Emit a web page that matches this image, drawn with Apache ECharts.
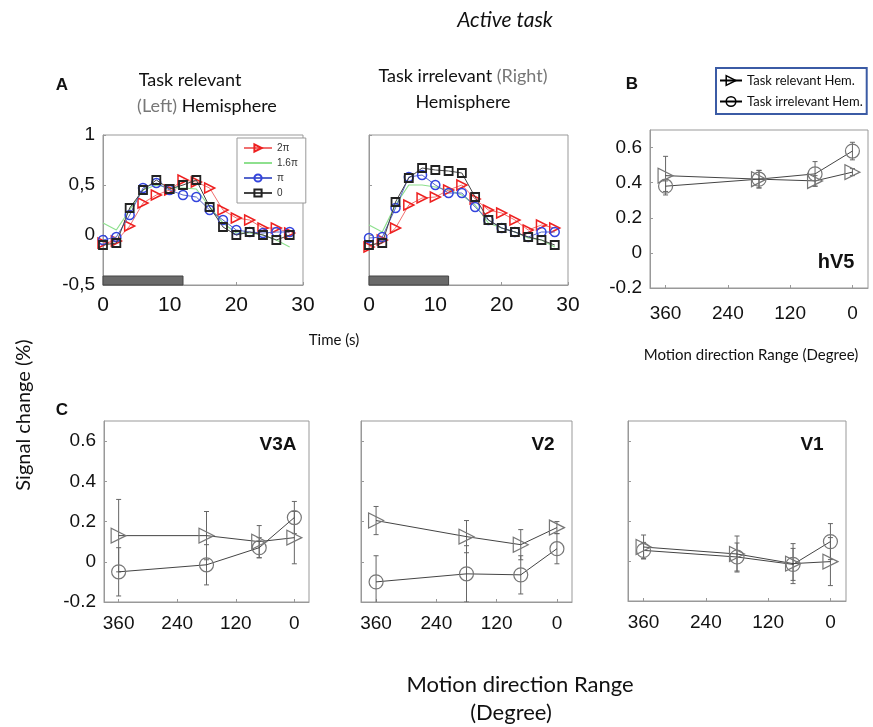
<!DOCTYPE html>
<html>
<head>
<meta charset="utf-8">
<script src="https://cdn.jsdelivr.net/npm/echarts@6/dist/echarts.min.js"></script>
<style>
  body { margin: 0; background: #fff; }
  #chart { width: 873px; height: 727px; }
</style>
</head>
<body>
<div id="chart"></div>
<script>
// ---- panel A : time courses (s) ----
var timeS = [0, 2, 4, 6, 8, 10, 12, 14, 16, 18, 20, 22, 24, 26, 28];
var stimWindow = [0, 12];
var seriesNamesA = ['2π', '1.6π', 'π', '0'];

var leftRed   = [-0.08, -0.06, 0.09, 0.32, 0.40, 0.45, 0.55, 0.53, 0.47, 0.25, 0.17, 0.15, 0.07, 0.07, 0.02];
var leftGreen = [0.12, 0.05, 0.25, 0.45, 0.50, 0.47, 0.47, 0.46, 0.28, 0.12, 0.02, 0.02, 0.00, -0.05, -0.12];
var leftBlue  = [-0.05, -0.02, 0.20, 0.47, 0.52, 0.45, 0.40, 0.38, 0.25, 0.15, 0.05, 0.03, 0.02, 0.03, 0.03];
var leftBlack = [-0.10, -0.08, 0.27, 0.45, 0.55, 0.46, 0.50, 0.55, 0.28, 0.08, 0.00, 0.03, 0.00, -0.05, 0.00];

var rightRed   = [-0.12, -0.05, 0.07, 0.30, 0.37, 0.38, 0.45, 0.50, 0.36, 0.25, 0.22, 0.15, 0.05, 0.10, 0.07];
var rightGreen = [0.10, 0.03, 0.30, 0.50, 0.50, 0.48, 0.45, 0.40, 0.30, 0.12, 0.07, 0.03, -0.03, -0.05, -0.12];
var rightBlue  = [-0.03, -0.02, 0.27, 0.58, 0.60, 0.50, 0.42, 0.42, 0.28, 0.15, 0.07, 0.03, -0.02, 0.03, 0.03];
var rightBlack = [-0.10, -0.08, 0.33, 0.57, 0.67, 0.65, 0.64, 0.62, 0.38, 0.15, 0.07, 0.03, -0.02, -0.05, -0.10];

// ---- panels B, C : motion direction range (deg) ----
var dirX = [360, 180, 72, 0];
var dirTicks = [0, 120, 240, 360];
var relName = 'Task relevant Hem.';
var irrName = 'Task irrelevant Hem.';

var hv5Rel = [0.44, 0.42, 0.41, 0.46],   hv5RelErr = [0.11, 0.05, 0.03, 0.02];
var hv5Irr = [0.38, 0.42, 0.45, 0.58],   hv5IrrErr = [0.03, 0.05, 0.07, 0.05];
var v3aRel = [0.13, 0.13, 0.10, 0.12],   v3aRelErr = [0.18, 0.12, 0.08, 0.13];
var v3aIrr = [-0.05, -0.015, 0.07, 0.22], v3aIrrErr = [0.12, 0.10, 0.05, 0.08];
var v2Rel  = [0.205, 0.125, 0.085, 0.17], v2RelErr = [0.07, 0.08, 0.075, 0.03];
var v2Irr  = [-0.10, -0.06, -0.065, 0.065], v2IrrErr = [0.13, 0.14, 0.095, 0.075];
var v1Rel  = [0.07, 0.035, -0.013, -0.003], v1RelErr = [0.06, 0.09, 0.10, 0.12];
var v1Irr  = [0.053, 0.02, -0.017, 0.097], v1IrrErr = [0.04, 0.07, 0.08, 0.09];

var tickFont = 'Liberation Sans, Arial, sans-serif';
var textFont = 'Lato, Open Sans, sans-serif';
var hollow = 'rgba(255,255,255,0)';

function pairs(xs, ys) {
	return xs.map(function (x, i) { return [x, ys[i]]; });
}

// 误差棒
function errRender(params, api) {
	var x = api.value(0);
	var p1 = api.coord([x, api.value(1)]);
	var p2 = api.coord([x, api.value(2)]);
	var cap = 2.5;
	var st = { stroke: '#666', lineWidth: 1 };
	return {
		type: 'group',
		children: [
			{ type: 'line', shape: { x1: p1[0], y1: p1[1], x2: p2[0], y2: p2[1] }, style: st },
			{ type: 'line', shape: { x1: p1[0] - cap, y1: p1[1], x2: p1[0] + cap, y2: p1[1] }, style: st },
			{ type: 'line', shape: { x1: p2[0] - cap, y1: p2[1], x2: p2[0] + cap, y2: p2[1] }, style: st }
		]
	};
}

function errSeries(idx, vals, errs) {
	return {
		type: 'custom',
		name: 'err',
		xAxisIndex: idx, yAxisIndex: idx,
		clip: true,
		renderItem: errRender,
		data: dirX.map(function (d, i) { return [d, vals[i] - errs[i], vals[i] + errs[i]]; }),
		z: 1
	};
}

function dirSeries(idx, rel, relErr, irr, irrErr) {
	return [
		errSeries(idx, rel, relErr),
		errSeries(idx, irr, irrErr),
		{
			type: 'line', name: relName, xAxisIndex: idx, yAxisIndex: idx,
			data: pairs(dirX, rel),
			symbol: 'triangle', symbolRotate: -90, symbolSize: 15,
			lineStyle: { color: '#444', width: 1 },
			itemStyle: { color: hollow, borderColor: '#777', borderWidth: 1.2 },
			z: 3
		},
		{
			type: 'line', name: irrName, xAxisIndex: idx, yAxisIndex: idx,
			data: pairs(dirX, irr),
			symbol: 'circle', symbolSize: 14,
			lineStyle: { color: '#444', width: 1 },
			itemStyle: { color: hollow, borderColor: '#777', borderWidth: 1.2 },
			z: 3
		}
	];
}

function timeSeries(idx, red, green, blue, black) {
	return [
		{
			type: 'line', name: '1.6π', xAxisIndex: idx, yAxisIndex: idx,
			data: pairs(timeS, green), symbol: 'none',
			lineStyle: { color: '#8ee08e', width: 1.2 }, z: 2
		},
		{
			type: 'line', name: '2π', xAxisIndex: idx, yAxisIndex: idx,
			data: pairs(timeS, red), symbol: 'triangle', symbolRotate: -90, symbolSize: 10,
			lineStyle: { color: '#f07070', width: 1 },
			itemStyle: { color: hollow, borderColor: '#ee2020', borderWidth: 1.5 }, z: 3,
			markArea: {
				silent: true,
				itemStyle: { color: '#6a6a6a', borderColor: '#444', borderWidth: 1 },
				data: [[{ coord: [stimWindow[0], -0.5] }, { coord: [stimWindow[1], -0.41] }]]
			}
		},
		{
			type: 'line', name: 'π', xAxisIndex: idx, yAxisIndex: idx,
			data: pairs(timeS, blue), symbol: 'circle', symbolSize: 9,
			lineStyle: { color: '#5566cc', width: 1 },
			itemStyle: { color: hollow, borderColor: '#3344dd', borderWidth: 1.5 }, z: 4
		},
		{
			type: 'line', name: '0', xAxisIndex: idx, yAxisIndex: idx,
			data: pairs(timeS, black), symbol: 'rect', symbolSize: 8,
			lineStyle: { color: '#444', width: 1 },
			itemStyle: { color: hollow, borderColor: '#222', borderWidth: 1.8 }, z: 5
		}
	];
}

var grids = [
	{ left: 103, top: 135, width: 200, height: 150 },
	{ left: 369, top: 135, width: 199, height: 150 },
	{ left: 650, top: 130, width: 218, height: 158 },
	{ left: 104, top: 421, width: 205, height: 181 },
	{ left: 361, top: 421, width: 211, height: 181 },
	{ left: 628, top: 421, width: 218, height: 180 }
].map(function (g) {
	g.show = true; g.borderColor = '#999'; g.borderWidth = 1; g.backgroundColor = '#fff';
	return g;
});

var axLine = { show: true, onZero: false, lineStyle: { color: '#999' } };
var axTick = { show: true, inside: true, length: 3, lineStyle: { color: '#999' } };

function timeX(idx) {
	return {
		type: 'value', gridIndex: idx, min: 0, max: 30, interval: 10,
		axisLine: axLine, axisTick: axTick, splitLine: { show: false },
		axisLabel: { fontFamily: tickFont, fontSize: 21, color: '#111', margin: 10 }
	};
}
function timeY(idx, showLabels) {
	return {
		type: 'value', gridIndex: idx, min: -0.5, max: 1, interval: 0.5,
		axisLine: axLine, axisTick: axTick, splitLine: { show: false },
		axisLabel: {
			show: showLabels, fontFamily: tickFont, fontSize: 19, color: '#111', margin: 8,
			formatter: function (v) { return String(v).replace('.', ','); }
		}
	};
}
function dirXAxis(idx, margin) {
	return {
		type: 'value', gridIndex: idx, min: -30, max: 390, inverse: true,
		axisLine: axLine, splitLine: { show: false },
		axisTick: { show: true, inside: true, length: 3, lineStyle: { color: '#999' }, customValues: dirTicks },
		axisLabel: { fontFamily: tickFont, fontSize: 19, color: '#111', margin: margin, customValues: dirTicks }
	};
}
function dirYAxis(idx, showLabels) {
	return {
		type: 'value', gridIndex: idx, min: -0.2, max: 0.7,
		axisLine: axLine, splitLine: { show: false },
		axisTick: { show: true, inside: true, length: 3, lineStyle: { color: '#999' }, customValues: [-0.2, 0, 0.2, 0.4, 0.6] },
		axisLabel: { show: showLabels, fontFamily: tickFont, fontSize: 19, color: '#111', margin: 8, customValues: [-0.2, 0, 0.2, 0.4, 0.6] }
	};
}

function txt(x, y, text, size, opts) {
	opts = opts || {};
	return {
		type: 'text', x: x, y: y, rotation: opts.rotation || 0,
		style: {
			text: text, fill: opts.fill || '#111',
			font: (opts.style || '') + ' ' + (opts.weight || 'normal') + ' ' + size + 'px ' + (opts.family || textFont),
			textAlign: opts.align || 'center', textVerticalAlign: 'middle',
			rich: opts.rich
		}
	};
}

var graphics = [
	txt(505, 20, 'Active task', 21, { style: 'italic' }),
	txt(62, 85, 'A', 17, { weight: 'bold', family: tickFont }),
	txt(632, 84, 'B', 17, { weight: 'bold', family: tickFont }),
	txt(62, 410, 'C', 17, { weight: 'bold', family: tickFont }),
	txt(190, 80, 'Task relevant', 18),
	txt(207, 106, '{g|(Left)} Hemisphere', 18, { rich: { g: { fill: '#777', font: '18px ' + textFont } } }),
	txt(463, 76, 'Task irrelevant {g|(Right)}', 18, { rich: { g: { fill: '#777', font: '18px ' + textFont } } }),
	txt(463, 102, 'Hemisphere', 18),
	txt(836, 262, 'hV5', 20, { weight: 'bold', family: tickFont }),
	txt(278, 445, 'V3A', 19, { weight: 'bold', family: tickFont }),
	txt(543, 445, 'V2', 19, { weight: 'bold', family: tickFont }),
	txt(812, 445, 'V1', 19, { weight: 'bold', family: tickFont }),
	txt(334, 340, 'Time (s)', 15),
	txt(751, 355, 'Motion direction Range (Degree)', 15),
	txt(24, 415, 'Signal change (%)', 20, { rotation: Math.PI / 2 }),
	txt(520, 685, 'Motion direction Range', 22),
	txt(511, 713, '(Degree)', 22)
];

var series = []
	.concat(timeSeries(0, leftRed, leftGreen, leftBlue, leftBlack))
	.concat(timeSeries(1, rightRed, rightGreen, rightBlue, rightBlack))
	.concat(dirSeries(2, hv5Rel, hv5RelErr, hv5Irr, hv5IrrErr))
	.concat(dirSeries(3, v3aRel, v3aRelErr, v3aIrr, v3aIrrErr))
	.concat(dirSeries(4, v2Rel, v2RelErr, v2Irr, v2IrrErr))
	.concat(dirSeries(5, v1Rel, v1RelErr, v1Irr, v1IrrErr));

var option = {
	animation: false,
	backgroundColor: '#fff',
	grid: grids,
	xAxis: [timeX(0), timeX(1), dirXAxis(2, 16), dirXAxis(3, 12), dirXAxis(4, 12), dirXAxis(5, 12)],
	yAxis: [timeY(0, true), timeY(1, false), dirYAxis(2, true), dirYAxis(3, true), dirYAxis(4, false), dirYAxis(5, false)],
	legend: [
		{
			data: [
				{ name: seriesNamesA[0], itemStyle: { color: hollow } },
				{ name: seriesNamesA[1], itemStyle: { opacity: 0 } },
				{ name: seriesNamesA[2], itemStyle: { color: hollow } },
				{ name: seriesNamesA[3], itemStyle: { color: hollow } }
			],
			left: 237, top: 138, orient: 'vertical',
			backgroundColor: '#fff', borderColor: '#999', borderWidth: 1,
			padding: [5, 8, 5, 6], itemGap: 5, itemWidth: 28, itemHeight: 9,
			symbolRotate: 'inherit',
			textStyle: { fontFamily: tickFont, fontSize: 10, color: '#333' },
			selectedMode: false
		},
		{
			data: [relName, irrName],
			left: 716, top: 68, orient: 'vertical',
			backgroundColor: '#fff', borderColor: '#3b5ba5', borderWidth: 2,
			padding: [6, 4, 6, 3], itemGap: 8, itemWidth: 22, itemHeight: 12,
			symbolRotate: 'inherit',
			itemStyle: { borderColor: '#000', borderWidth: 1.5 },
			lineStyle: { color: '#000', width: 2 },
			textStyle: { fontFamily: textFont, fontSize: 13, color: '#111' },
			selectedMode: false
		}
	],
	graphic: graphics,
	series: series
};

var chart = echarts.init(document.getElementById('chart'));
chart.setOption(option);
</script>
</body>
</html>
